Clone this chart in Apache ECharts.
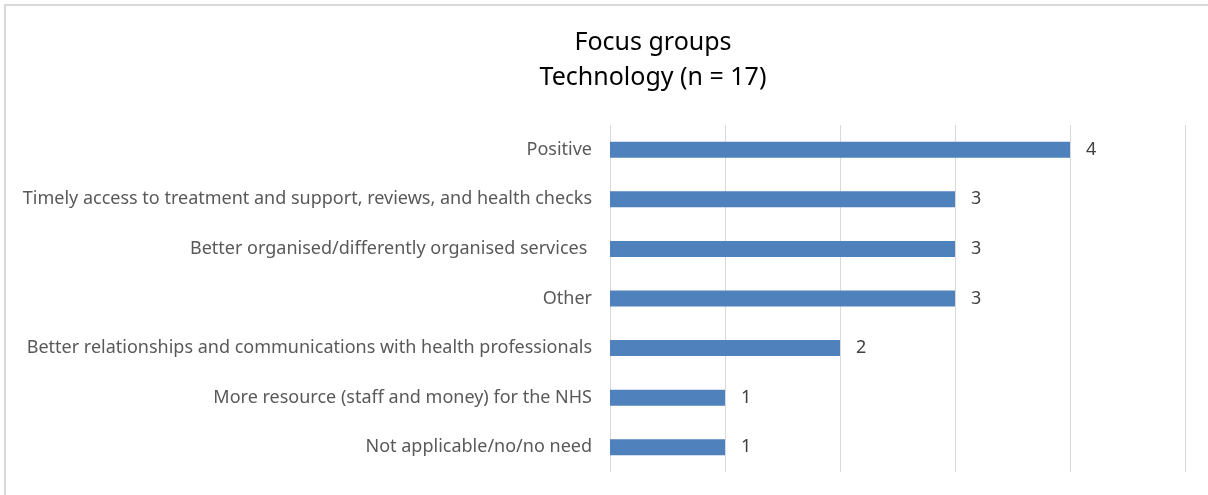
<!DOCTYPE html>
<html>
<head>
<meta charset="utf-8">
<script src="https://cdn.jsdelivr.net/npm/echarts@6/dist/echarts.min.js"></script>
<style>
  html, body { margin: 0; padding: 0; background: #fff; }
  #focusBarChart { width: 1208px; height: 495px; }
</style>
</head>
<body>
<div id="focusBarChart"></div>
<script>
// categories listed bottom to top (category axis starts at the bottom)
var categories = [
  "Not applicable/no/no need",
  "More resource (staff and money) for the NHS",
  "Better relationships and communications with health professionals",
  "Other",
  "Better organised/differently organised services ",
  "Timely access to treatment and support, reviews, and health checks",
  "Positive"
];
var counts = [1, 1, 2, 3, 3, 3, 4];
var xTicks = [0, 1, 2, 3, 4, 5];

var labelFont = '"Noto Sans", sans-serif';

var chart = echarts.init(document.getElementById("focusBarChart"));
chart.setOption({
  animation: false,
  title: {
    text: "Focus groups\nTechnology (n = 17)",
    left: 648,
    textAlign: "center",
    top: 20,
    textStyle: {
      fontFamily: labelFont,
      fontSize: 25,
      fontWeight: "normal",
      color: "#000",
      lineHeight: 35
    }
  },
  graphic: [
    { type: "line", shape: { x1: 4, y1: 5, x2: 1208, y2: 5 }, style: { stroke: "#d9d9d9", lineWidth: 2 } },
    { type: "line", shape: { x1: 5, y1: 4, x2: 5, y2: 495 }, style: { stroke: "#d9d9d9", lineWidth: 2 } }
  ],
  grid: { left: 610, right: 23, top: 125, bottom: 23, containLabel: false },
  xAxis: {
    type: "value",
    min: xTicks[0],
    max: xTicks[xTicks.length - 1],
    interval: 1,
    axisLabel: { show: false },
    axisLine: { show: false },
    axisTick: { show: false },
    splitLine: { show: true, lineStyle: { color: "#d9d9d9", width: 1 } }
  },
  yAxis: {
    type: "category",
    data: categories,
    axisLine: { show: false },
    axisTick: { show: false },
    axisLabel: {
      margin: 18,
      fontFamily: labelFont,
      fontSize: 18,
      color: "#595959"
    }
  },
  series: [{
    type: "bar",
    data: counts,
    barWidth: 16,
    itemStyle: { color: "#4f81bd" },
    label: {
      show: true,
      position: "right",
      distance: 16,
      fontFamily: labelFont,
      fontSize: 18,
      color: "#404040"
    }
  }]
});
</script>
</body>
</html>
